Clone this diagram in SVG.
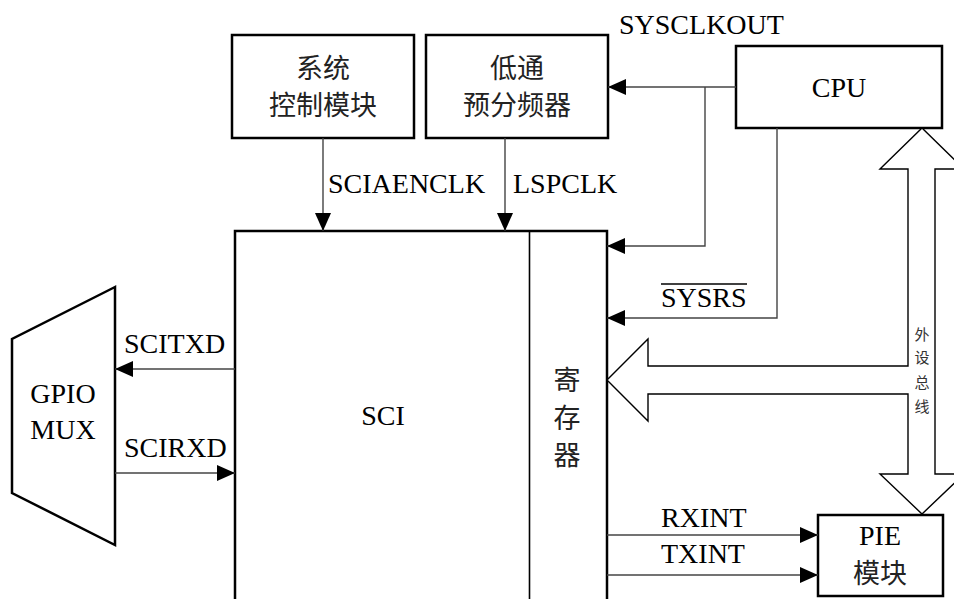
<svg xmlns="http://www.w3.org/2000/svg" width="954" height="599" viewBox="0 0 954 599">
<defs>
<style>
.box{fill:#fff;stroke:#000;stroke-width:2.5}
.ln{fill:none;stroke:#444;stroke-width:1.4}
.t{font-family:'Liberation Serif','DejaVu Serif',serif;font-size:28px;fill:#000}
.c{font-family:'Noto Sans CJK SC',sans-serif;font-size:27px;fill:#222}
.s{font-family:'Noto Sans CJK SC',sans-serif;font-size:15px;fill:#333}
</style>
<marker id="ah" markerUnits="userSpaceOnUse" markerWidth="20" markerHeight="18" refX="18" refY="8" orient="auto">
<path d="M0,0 L18,8 L0,16 Z" fill="#000"/>
</marker>
</defs>
<g id="sysctrl">
<rect class="box" x="232" y="35" width="182" height="103"/>
<text class="c" x="323" y="78" text-anchor="middle">系统</text>
<text class="c" x="323" y="115" text-anchor="middle">控制模块</text>
</g>
<g id="lpdiv">
<rect class="box" x="426" y="35" width="182" height="103"/>
<text class="c" x="517" y="78" text-anchor="middle">低通</text>
<text class="c" x="517" y="115" text-anchor="middle">预分频器</text>
</g>
<g id="cpu">
<rect class="box" x="736" y="46" width="206" height="82"/>
<text class="t" x="839" y="97" text-anchor="middle" font-family="Liberation Serif">CPU</text>
</g>
<g id="sci">
<rect class="box" x="235" y="231" width="372" height="380"/>
<line x1="529.5" y1="231" x2="529.5" y2="599" stroke="#000" stroke-width="1.6"/>
<text class="t" x="383" y="425" text-anchor="middle" font-family="Liberation Serif">SCI</text>
<text class="c" x="567" y="390" text-anchor="middle">寄</text>
<text class="c" x="567" y="428" text-anchor="middle">存</text>
<text class="c" x="567" y="465" text-anchor="middle">器</text>
</g>
<g id="gpio">
<path class="box" d="M115,287 L12,339 L12,493 L115,545 Z"/>
<text class="t" x="63" y="403" text-anchor="middle" font-family="Liberation Serif">GPIO</text>
<text class="t" x="63" y="439" text-anchor="middle" font-family="Liberation Serif">MUX</text>
</g>
<g id="pie">
<rect class="box" x="818" y="515" width="125" height="81"/>
<text class="t" x="880" y="545" text-anchor="middle" font-family="Liberation Serif">PIE</text>
<text class="c" x="880" y="583" text-anchor="middle">模块</text>
</g>
<g id="bus">
<path d="M880,169 L922,128 L964,169 L935,169 L935,474 L964,474 L922,514 L880,474 L908,474 L908,394 L648,394 L648,421 L607,380 L648,339 L648,366 L908,366 L908,169 Z" fill="#fff" stroke="#000" stroke-width="1.4"/>
<text class="s" x="922" y="340" text-anchor="middle">外</text>
<text class="s" x="922" y="363" text-anchor="middle">设</text>
<text class="s" x="922" y="388" text-anchor="middle">总</text>
<text class="s" x="922" y="412" text-anchor="middle">线</text>
</g>
<g id="connectors">
<line class="ln" x1="323" y1="138" x2="323" y2="231" marker-end="url(#ah)"/>
<line class="ln" x1="505" y1="138" x2="505" y2="231" marker-end="url(#ah)"/>
<line class="ln" x1="736" y1="87" x2="608" y2="87" marker-end="url(#ah)"/>
<polyline class="ln" points="705,87 705,246 607,246" marker-end="url(#ah)"/>
<polyline class="ln" points="777,128 777,318 607,318" marker-end="url(#ah)"/>
<line class="ln" x1="235" y1="369" x2="115" y2="369" marker-end="url(#ah)"/>
<line class="ln" x1="115" y1="473" x2="235" y2="473" marker-end="url(#ah)"/>
<line class="ln" x1="607" y1="535" x2="818" y2="535" marker-end="url(#ah)"/>
<line class="ln" x1="607" y1="575" x2="818" y2="575" marker-end="url(#ah)"/>
</g>
<g id="labels" font-family="Liberation Serif">
<text class="t" x="619" y="34">SYSCLKOUT</text>
<text class="t" x="328" y="193">SCIAENCLK</text>
<text class="t" x="513" y="193">LSPCLK</text>
<text class="t" x="661" y="307">SYSRS</text>
<line x1="661" y1="284" x2="747" y2="284" stroke="#000" stroke-width="1.3"/>
<text class="t" x="124" y="353">SCITXD</text>
<text class="t" x="124" y="457">SCIRXD</text>
<text class="t" x="661" y="527">RXINT</text>
<text class="t" x="661" y="563">TXINT</text>
</g>
</svg>
